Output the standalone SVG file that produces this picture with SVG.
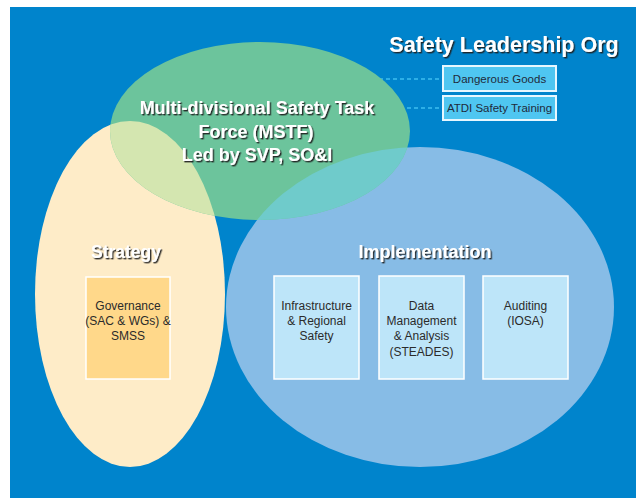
<svg xmlns="http://www.w3.org/2000/svg" width="636" height="498" viewBox="0 0 636 498">
<style>
.title{font-family:"Liberation Sans",Arial,sans-serif;font-weight:bold;fill:#ffffff;text-anchor:middle;filter:url(#sh)}
.lbl{font-family:"Liberation Sans",Arial,sans-serif;font-size:12px;fill:#2b2b2b;text-anchor:middle}
.sm{font-family:"Liberation Sans",Arial,sans-serif;font-size:11.5px;fill:#1f2a3a;text-anchor:middle}
.gov{fill:#FFD88A;stroke:#ffffff;stroke-width:1.5}
.imp{fill:#BDE5F9;stroke:#ffffff;stroke-width:1.5}
.tag{fill:#4FC6F1;stroke:#E6F7FF;stroke-width:2}
.dash{stroke:#3DBDEF;stroke-width:1.3;stroke-dasharray:4 3;fill:none}
</style>
<defs>
<filter id="sh" x="-10%" y="-30%" width="120%" height="160%">
<feDropShadow dx="1.4" dy="1.4" stdDeviation="0.4" flood-color="#1a1a1a" flood-opacity="0.9"/>
</filter>
<clipPath id="cy"><ellipse cx="130" cy="294" rx="95" ry="173"/></clipPath>
<clipPath id="cb"><ellipse cx="420" cy="307" rx="194" ry="160"/></clipPath>
</defs>
<rect x="0" y="0" width="636" height="498" fill="#ffffff"/>
<rect x="10" y="7" width="626" height="491" fill="#0084CC"/>
<g id="connectors">
<line class="dash" x1="330" y1="79" x2="443" y2="79"/>
<line class="dash" x1="330" y1="108" x2="443" y2="108"/>
</g>
<g id="strategy">
<ellipse cx="130" cy="294" rx="95" ry="173" fill="#FEECC8"/>
</g>
<g id="implementation">
<ellipse cx="420" cy="307" rx="194" ry="160" fill="#87BCE6"/>
</g>
<g id="mstf">
<ellipse cx="260" cy="131" rx="150" ry="89" fill="#6CC49C"/>
<ellipse cx="260" cy="131" rx="150" ry="89" fill="#D4E6B0" clip-path="url(#cy)"/>
<ellipse cx="260" cy="131" rx="150" ry="89" fill="#6FCBCB" clip-path="url(#cb)"/>
<text class="title" font-size="18" x="257" y="114">Multi-divisional Safety Task</text>
<text class="title" font-size="18" x="256" y="138">Force (MSTF)</text>
<text class="title" font-size="18" x="257" y="161">Led by SVP, SO&amp;I</text>
</g>
<g id="org-title">
<text class="title" font-size="21.5" x="504" y="52">Safety Leadership Org</text>
</g>
<g id="dangerous-goods">
<rect class="tag" x="443" y="66" width="113" height="25"/>
<text class="sm" x="499.5" y="83">Dangerous Goods</text>
</g>
<g id="atdi">
<rect class="tag" x="443" y="96" width="113" height="24"/>
<text class="sm" x="499.5" y="112">ATDI Safety Training</text>
</g>
<g id="strategy-label">
<text class="title" font-size="17.5" x="126" y="258">Strategy</text>
</g>
<g id="governance">
<rect class="gov" x="86" y="277" width="84" height="102"/>
<text class="lbl" x="128" y="310">Governance</text>
<text class="lbl" x="128" y="325">(SAC &amp; WGs) &amp;</text>
<text class="lbl" x="128" y="340">SMSS</text>
</g>
<g id="implementation-label">
<text class="title" font-size="18" x="425" y="258">Implementation</text>
</g>
<g id="infrastructure">
<rect class="imp" x="274" y="276" width="85" height="103"/>
<text class="lbl" x="316.5" y="310">Infrastructure</text>
<text class="lbl" x="316.5" y="325">&amp; Regional</text>
<text class="lbl" x="316.5" y="340">Safety</text>
</g>
<g id="data-management">
<rect class="imp" x="379" y="276" width="85" height="103"/>
<text class="lbl" x="421.5" y="310">Data</text>
<text class="lbl" x="421.5" y="325">Management</text>
<text class="lbl" x="421.5" y="340">&amp; Analysis</text>
<text class="lbl" x="421.5" y="356">(STEADES)</text>
</g>
<g id="auditing">
<rect class="imp" x="483" y="276" width="85" height="103"/>
<text class="lbl" x="525.5" y="310">Auditing</text>
<text class="lbl" x="525.5" y="325">(IOSA)</text>
</g>
</svg>
